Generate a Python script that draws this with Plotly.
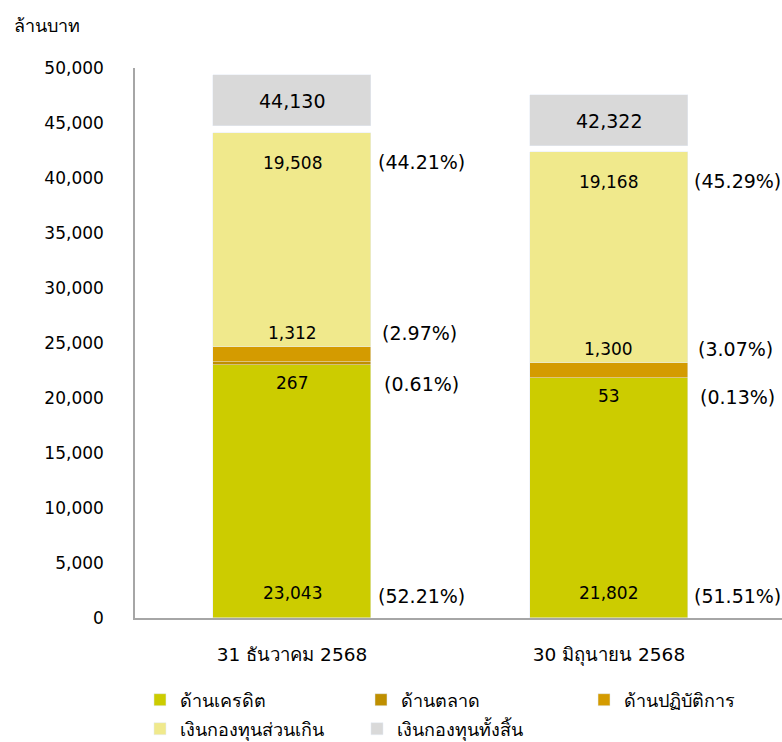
import plotly.graph_objects as go

categories = ["31 ธันวาคม 2568", "30 มิถุนายน 2568"]
credit = [23043, 21802]
market = [267, 53]
operational = [1312, 1300]
excess = [19508, 19168]
totals = [44130, 42322]
pct_credit = ["(52.21%)", "(51.51%)"]
pct_market = ["(0.61%)", "(0.13%)"]
pct_oper = ["(2.97%)", "(3.07%)"]
pct_excess = ["(44.21%)", "(45.29%)"]
y_ticks = [0, 5000, 10000, 15000, 20000, 25000, 30000, 35000, 40000, 45000, 50000]

C_CREDIT = "#CCCC00"
C_MARKET = "#BF8F00"
C_OPER = "#D49B00"
C_EXCESS = "#F0E98C"
C_TOTAL = "#D9D9D9"
FONT = "DejaVu Sans, Noto Sans, sans-serif"

BOX_GAP = 600
BOX_H = 4600

fig = go.Figure()
w = 0.5
fig.add_bar(x=categories, y=credit, name="ด้านเครดิต", marker_color=C_CREDIT, width=w, legend="legend")
fig.add_bar(x=categories, y=market, name="ด้านตลาด", marker_color=C_MARKET, width=w, legend="legend2")
fig.add_bar(x=categories, y=operational, name="ด้านปฏิบัติการ", marker_color=C_OPER, width=w, legend="legend3")
fig.add_bar(x=categories, y=excess, name="เงินกองทุนส่วนเกิน", marker_color=C_EXCESS, width=w, legend="legend4")
fig.add_bar(x=categories, y=[BOX_H] * 2, base=[t + BOX_GAP for t in totals],
            name="เงินกองทุนทั้งสิ้น", marker_color=C_TOTAL, width=w, legend="legend5")

fs = 17
pfs = 19
ann = []
def lab(x, y, text, yshift=0, xshift=0, size=fs):
    ann.append(dict(x=x, y=y, xref="x", yref="y", text=text, showarrow=False,
                    xshift=xshift, yshift=yshift, font=dict(size=size, color="#000000", family=FONT)))

PX = 129
for i, c in enumerate(categories):
    top_credit = credit[i]
    top_band = credit[i] + market[i] + operational[i]
    tot = totals[i]
    lab(c, 0, f"{credit[i]:,}", yshift=25)
    lab(c, 0, pct_credit[i], yshift=22, xshift=PX, size=pfs)
    lab(c, top_credit, f"{market[i]:,}", yshift=-18)
    lab(c, top_credit, pct_market[i], yshift=-19, xshift=PX, size=pfs)
    lab(c, top_band, f"{operational[i]:,}", yshift=14)
    lab(c, top_band, pct_oper[i], yshift=14, xshift=PX - 2, size=pfs)
    lab(c, tot, f"{excess[i]:,}", yshift=-30)
    lab(c, tot, pct_excess[i], yshift=-29, xshift=PX, size=pfs)
    lab(c, tot + BOX_GAP + BOX_H / 2, f"{tot:,}", size=19)

ann.append(dict(x=(12 - 135) / 647, y=(618 - 26) / 550, xref="paper", yref="paper",
                text="ล้านบาท", showarrow=False, xanchor="left", yanchor="middle",
                font=dict(size=18, color="#000000", family=FONT)))

leg_common = dict(orientation="h", xanchor="left", yanchor="middle",
                  font=dict(size=18, family=FONT, color="#000000"), itemwidth=30,
                  bgcolor="rgba(0,0,0,0)")
ROW1 = (618 - 700) / 550
ROW2 = (618 - 729) / 550
fig.update_layout(
    barmode="stack",
    width=782, height=742,
    margin=dict(l=135, r=0, t=68, b=124, autoexpand=False),
    plot_bgcolor="white", paper_bgcolor="white",
    font=dict(family=FONT, size=17, color="#000000"),
    bargap=0,
    annotations=ann,
    showlegend=True,
    legend=dict(x=0.0077, y=ROW1, **leg_common),
    legend2=dict(x=0.3493, y=ROW1, **leg_common),
    legend3=dict(x=0.694, y=ROW1, **leg_common),
    legend4=dict(x=0.0077, y=ROW2, **leg_common),
    legend5=dict(x=0.3431, y=ROW2, **leg_common),
)
fig.update_xaxes(range=[-0.4954, 1.546], showline=True, linecolor="#A6A6A6", linewidth=2,
                 ticks="", showgrid=False, tickfont=dict(size=18.5), ticklabelstandoff=19)
fig.update_yaxes(range=[0, 50000], tickvals=y_ticks, tickformat=",", showline=True,
                 linecolor="#A6A6A6", linewidth=1.5, showgrid=False, ticks="",
                 ticklabelstandoff=26, tickfont=dict(size=17), zeroline=False)

fig.write_html("out.html", config={"displayModeBar": False})
with open("out.html", "r", encoding="utf-8") as f:
    html = f.read()
html = html.replace("<head>", "<head><style>html,body{margin:0;padding:0;overflow:hidden;}</style>", 1)
with open("out.html", "w", encoding="utf-8") as f:
    f.write(html)
